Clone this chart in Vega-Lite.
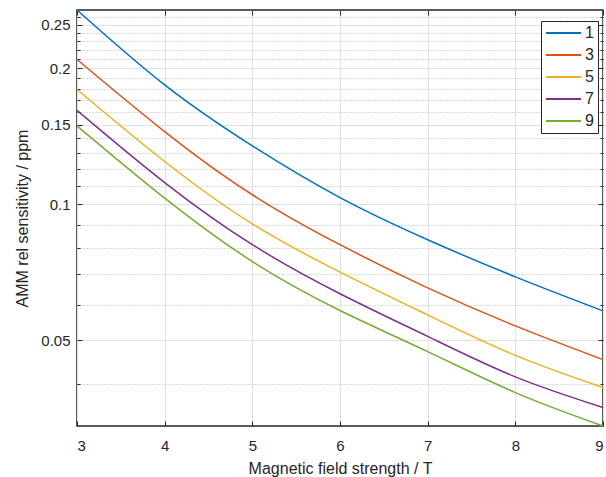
{
  "$schema": "https://vega.github.io/schema/vega-lite/v6.json",
  "width": 526,
  "height": 416,
  "autosize": {"type": "none"},
  "padding": {"left": 77, "top": 10, "right": 3, "bottom": 51},
  "background": "white",
  "config": {
    "font": "Liberation Sans",
    "view": {"stroke": "#262626", "strokeWidth": 1.5},
    "axis": {"labelColor": "#262626", "titleColor": "#262626", "titleFontWeight": "normal", "tickColor": "#262626"}
  },
  "data": {
    "values": [
      {"n": "1", "B": 3, "S": 0.2693}, {"n": "1", "B": 4, "S": 0.1838}, {"n": "1", "B": 5, "S": 0.1347}, {"n": "1", "B": 6, "S": 0.1035}, {"n": "1", "B": 7, "S": 0.0835}, {"n": "1", "B": 8, "S": 0.0691}, {"n": "1", "B": 9, "S": 0.0581},
      {"n": "3", "B": 3, "S": 0.2093}, {"n": "3", "B": 4, "S": 0.1449}, {"n": "3", "B": 5, "S": 0.105}, {"n": "3", "B": 6, "S": 0.0814}, {"n": "3", "B": 7, "S": 0.0653}, {"n": "3", "B": 8, "S": 0.0538}, {"n": "3", "B": 9, "S": 0.0453},
      {"n": "5", "B": 3, "S": 0.1796}, {"n": "5", "B": 4, "S": 0.1244}, {"n": "5", "B": 5, "S": 0.0905}, {"n": "5", "B": 6, "S": 0.0708}, {"n": "5", "B": 7, "S": 0.0569}, {"n": "5", "B": 8, "S": 0.0463}, {"n": "5", "B": 9, "S": 0.0393},
      {"n": "7", "B": 3, "S": 0.1614}, {"n": "7", "B": 4, "S": 0.1117}, {"n": "7", "B": 5, "S": 0.0814}, {"n": "7", "B": 6, "S": 0.0634}, {"n": "7", "B": 7, "S": 0.051}, {"n": "7", "B": 8, "S": 0.0415}, {"n": "7", "B": 9, "S": 0.0355},
      {"n": "9", "B": 3, "S": 0.1492}, {"n": "9", "B": 4, "S": 0.1032}, {"n": "9", "B": 5, "S": 0.0747}, {"n": "9", "B": 6, "S": 0.0582}, {"n": "9", "B": 7, "S": 0.0472}, {"n": "9", "B": 8, "S": 0.0383}, {"n": "9", "B": 9, "S": 0.0323}
    ]
  },
  "layer": [
    {
      "mark": {"type": "line", "strokeWidth": 0, "opacity": 0},
      "encoding": {
        "detail": {"field": "n"},
        "x": {"field": "B", "type": "quantitative", "scale": {"domain": [3, 9], "nice": false, "zero": false},
          "axis": {"orient": "top", "values": [3, 4, 5, 6, 7, 8, 9], "grid": false, "labels": false, "domain": false, "ticks": true, "tickSize": -5, "title": null}},
        "y": {"field": "S", "type": "quantitative", "scale": {"type": "log", "domain": [0.0323, 0.2693], "nice": false},
          "axis": {"orient": "left", "values": [0.04, 0.06, 0.07, 0.08, 0.09, 0.11, 0.12, 0.13, 0.14, 0.16, 0.17, 0.18, 0.19, 0.21, 0.22, 0.23, 0.24, 0.26], "grid": true, "gridDash": [1, 2], "gridColor": "#b4b4b4", "labels": false, "domain": false, "ticks": true, "tickSize": -3, "title": null}}
      }
    },
    {
      "mark": {"type": "line", "strokeWidth": 0, "opacity": 0},
      "encoding": {
        "detail": {"field": "n"},
        "x": {"field": "B", "type": "quantitative",
          "axis": {"orient": "bottom", "values": [3, 4, 5, 6, 7, 8, 9], "grid": false, "labels": false, "domain": false, "ticks": true, "tickSize": -5, "title": null}},
        "y": {"field": "S", "type": "quantitative",
          "axis": {"orient": "right", "values": [0.04, 0.06, 0.07, 0.08, 0.09, 0.11, 0.12, 0.13, 0.14, 0.16, 0.17, 0.18, 0.19, 0.21, 0.22, 0.23, 0.24, 0.26], "grid": false, "labels": false, "domain": false, "ticks": true, "tickSize": -3, "title": null}}
      }
    },
    {
      "mark": {"type": "line", "strokeWidth": 0, "opacity": 0},
      "encoding": {
        "detail": {"field": "n"},
        "x": {"field": "B", "type": "quantitative", "axis": null},
        "y": {"field": "S", "type": "quantitative",
          "axis": {"orient": "left", "values": [0.05, 0.1, 0.15, 0.2, 0.25], "grid": false, "labels": false, "domain": false, "ticks": true, "tickSize": -5, "title": null}}
      }
    },
    {
      "mark": {"type": "line", "strokeWidth": 0, "opacity": 0},
      "encoding": {
        "detail": {"field": "n"},
        "x": {"field": "B", "type": "quantitative", "axis": null},
        "y": {"field": "S", "type": "quantitative",
          "axis": {"orient": "right", "values": [0.05, 0.1, 0.15, 0.2, 0.25], "grid": false, "labels": false, "domain": false, "ticks": true, "tickSize": -5, "title": null}}
      }
    },
    {
      "mark": {"type": "line", "strokeWidth": 1.5, "interpolate": "natural"},
      "encoding": {
        "x": {"field": "B", "type": "quantitative",
          "axis": {"orient": "bottom", "values": [3, 4, 5, 6, 7, 8, 9], "grid": true, "gridColor": "#e0e0e0", "ticks": false, "domain": false, "labelFontSize": 15, "labelPadding": 12, "title": "Magnetic field strength / T", "titleFontSize": 16, "titlePadding": 7}},
        "y": {"field": "S", "type": "quantitative",
          "axis": {"orient": "left", "values": [0.05, 0.1, 0.15, 0.2, 0.25], "format": ".2~f", "grid": true, "gridColor": "#e0e0e0", "ticks": false, "domain": false, "labelFontSize": 15, "labelPadding": 7, "title": "AMM rel sensitivity / ppm", "titleFontSize": 16, "titlePadding": 10}},
        "color": {"field": "n", "type": "nominal",
          "scale": {"domain": ["1", "3", "5", "7", "9"], "range": ["#0072BD", "#D95319", "#EDB120", "#7E2F8E", "#77AC30"]},
          "legend": {"orient": "none", "legendX": 464, "legendY": 11, "title": null, "fillColor": "white", "strokeColor": "#262626", "padding": 4, "symbolType": "M-1.167,0H4.667", "symbolSize": 144, "symbolStrokeWidth": 2, "labelFontSize": 16, "labelColor": "#262626", "labelOffset": 24, "rowPadding": 6}}
      }
    }
  ],
  "resolve": {"axis": {"x": "independent", "y": "independent"}}
}
